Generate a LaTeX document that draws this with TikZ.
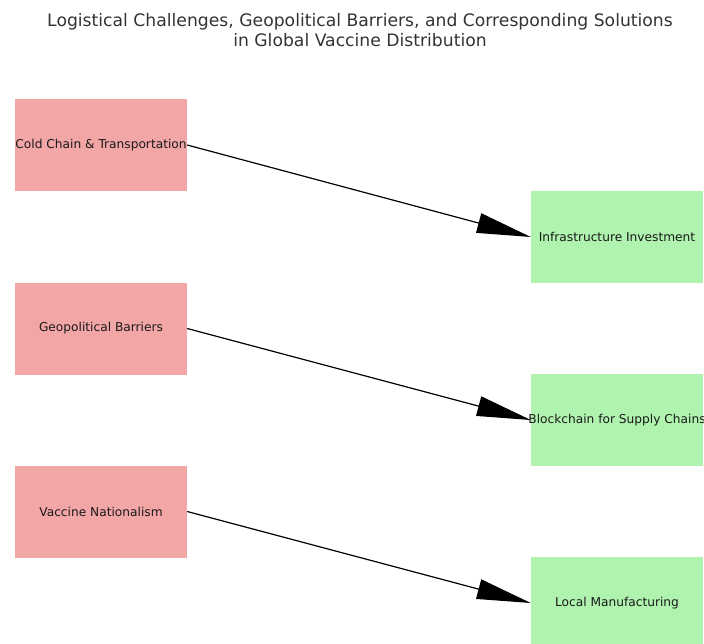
\documentclass[tikz,border=0pt]{standalone}
\usepackage{fontspec}
\setmainfont{DejaVu Sans}
\usetikzlibrary{arrows.meta}
\definecolor{chal}{HTML}{F3A6A6}
\definecolor{sol}{HTML}{AFF3AF}
\definecolor{titlec}{HTML}{333333}
\tikzset{
  box/.style={rectangle, minimum width=172pt, minimum height=92pt, inner sep=0pt, font=\fontsize{12.2}{14}\selectfont, text=black!90},
  chalbox/.style={box, fill=chal},
  solbox/.style={box, fill=sol},
  link/.style={draw=black, line width=1.2pt, -{Triangle[length=54pt, width=20pt]}, shorten >=0pt}
}
\begin{document}
\begin{tikzpicture}[x=1pt, y=-1pt]
\clip (0,0) rectangle (704,643);
\useasboundingbox (0,0) rectangle (704,643);
\node[align=center, text=titlec, font=\fontsize{17.2}{20}\selectfont] (title) at (360,30) {Logistical Challenges, Geopolitical Barriers, and Corresponding Solutions\\in Global Vaccine Distribution};
\node[chalbox] (c1) at (101,145) {\makebox[0pt]{Cold Chain \& Transportation}};
\node[chalbox] (c2) at (101,328.5) {Geopolitical Barriers};
\node[chalbox] (c3) at (101,511.5) {Vaccine Nationalism};
\node[solbox] (s1) at (617,237) {Infrastructure Investment};
\node[solbox] (s2) at (617,420) {\makebox[0pt]{Blockchain for Supply Chains}};
\node[solbox] (s3) at (617,603) {Local Manufacturing};
\draw[link] (c1.east) -- (s1.west);
\draw[link] (c2.east) -- (s2.west);
\draw[link] (c3.east) -- (s3.west);
\end{tikzpicture}
\end{document}
